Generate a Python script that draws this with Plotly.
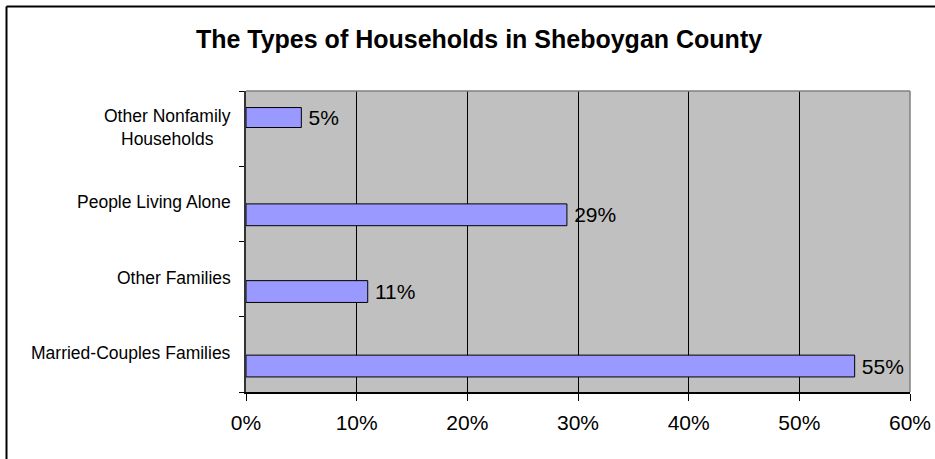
import plotly.graph_objects as go

# Data (bottom to top, as Excel draws a bar chart)
categories = ["Married-Couples Families", "Other Families",
              "People Living Alone", "Other Nonfamily Households"]
label_text = ["Married-Couples Families", "Other Families",
              "People Living Alone", "Other Nonfamily<br>Households"]
shares = [55, 11, 29, 5]
x_ticks = [0, 10, 20, 30, 40, 50, 60]
x_tick_text = [f"{v}%" for v in x_ticks]

FONT = "Arial, 'Liberation Sans', sans-serif"
W, H = 935, 459
ML, MR, MT, MB = 246, 25, 91, 67

# pixel -> paper helpers for the decorative frame lines
def px_x(p):
    return (p - ML) / (W - ML - MR)

def px_y(p):
    return (H - MB - p) / (H - MT - MB)

# bar placement inside each slot (style only)
bar_offset = [-0.30, -0.31, -0.29, 0.015]
bar_width = [0.29, 0.29, 0.29, 0.265]

fig = go.Figure(go.Bar(
    x=shares,
    y=categories,
    orientation="h",
    offset=bar_offset,
    width=bar_width,
    marker=dict(color="#9999FF", line=dict(color="black", width=1)),
    text=[f"\u2009{v}%" for v in shares],
    textposition="outside",
    constraintext="none",
    textfont=dict(family=FONT, size=21, color="black"),
    cliponaxis=False,
    hoverinfo="skip",
))

# category labels, centred lines like Excel
annotations = []
for cat, txt in zip(categories, label_text):
    annotations.append(dict(
        x=0, xref="paper", y=cat, yref="y",
        text=txt, showarrow=False, xanchor="right", yanchor="middle",
        align="center", xshift=-13, yshift=1.5,
        font=dict(family=FONT, size=17.5, color="black"),
    ))

shapes = [
    # plot area top and right border (gray)
    dict(type="line", xref="paper", yref="paper", x0=0, x1=1, y0=1, y1=1,
         line=dict(color="#808080", width=1.5), layer="above"),
    dict(type="line", xref="paper", yref="paper", x0=1, x1=1, y0=0, y1=1,
         line=dict(color="#808080", width=1.5), layer="above"),
    # outer chart frame (top and left visible)
    dict(type="line", xref="paper", yref="paper",
         x0=px_x(6.5), x1=px_x(W + 5), y0=px_y(6.5), y1=px_y(6.5),
         line=dict(color="black", width=2)),
    dict(type="line", xref="paper", yref="paper",
         x0=px_x(6.5), x1=px_x(6.5), y0=px_y(6.5), y1=px_y(H + 5),
         line=dict(color="black", width=2)),
]

fig.update_layout(
    width=W, height=H,
    margin=dict(l=ML, r=MR, t=MT, b=MB, autoexpand=False),
    paper_bgcolor="white",
    plot_bgcolor="#C0C0C0",
    showlegend=False,
    title=dict(
        text="<b>The Types of Households in Sheboygan County</b>",
        font=dict(family=FONT, size=25, color="black"),
        x=479 / W, xanchor="center", xref="container",
        y=1 - 39 / H, yanchor="middle", yref="container",
    ),
    xaxis=dict(
        range=[0, 60], tickvals=x_ticks, ticktext=x_tick_text,
        showgrid=True, gridcolor="black", gridwidth=1,
        showline=True, linecolor="black", linewidth=1.5,
        ticks="outside", ticklen=7, tickcolor="black", tickwidth=1,
        tickfont=dict(family=FONT, size=21, color="black"),
        ticklabelstandoff=4,
        zeroline=False, fixedrange=True, automargin=False,
    ),
    yaxis=dict(
        type="category", categoryorder="array", categoryarray=categories,
        range=[-0.5, 3.5],
        showticklabels=False, tickson="boundaries",
        ticks="outside", ticklen=5, tickcolor="black", tickwidth=1,
        showline=True, linecolor="#333333", linewidth=1.5,
        showgrid=False, zeroline=False, fixedrange=True, automargin=False,
    ),
    annotations=annotations,
    shapes=shapes,
)

fig.write_html("out.html", config={"displayModeBar": False},
               post_script="document.body.style.margin='0';")
